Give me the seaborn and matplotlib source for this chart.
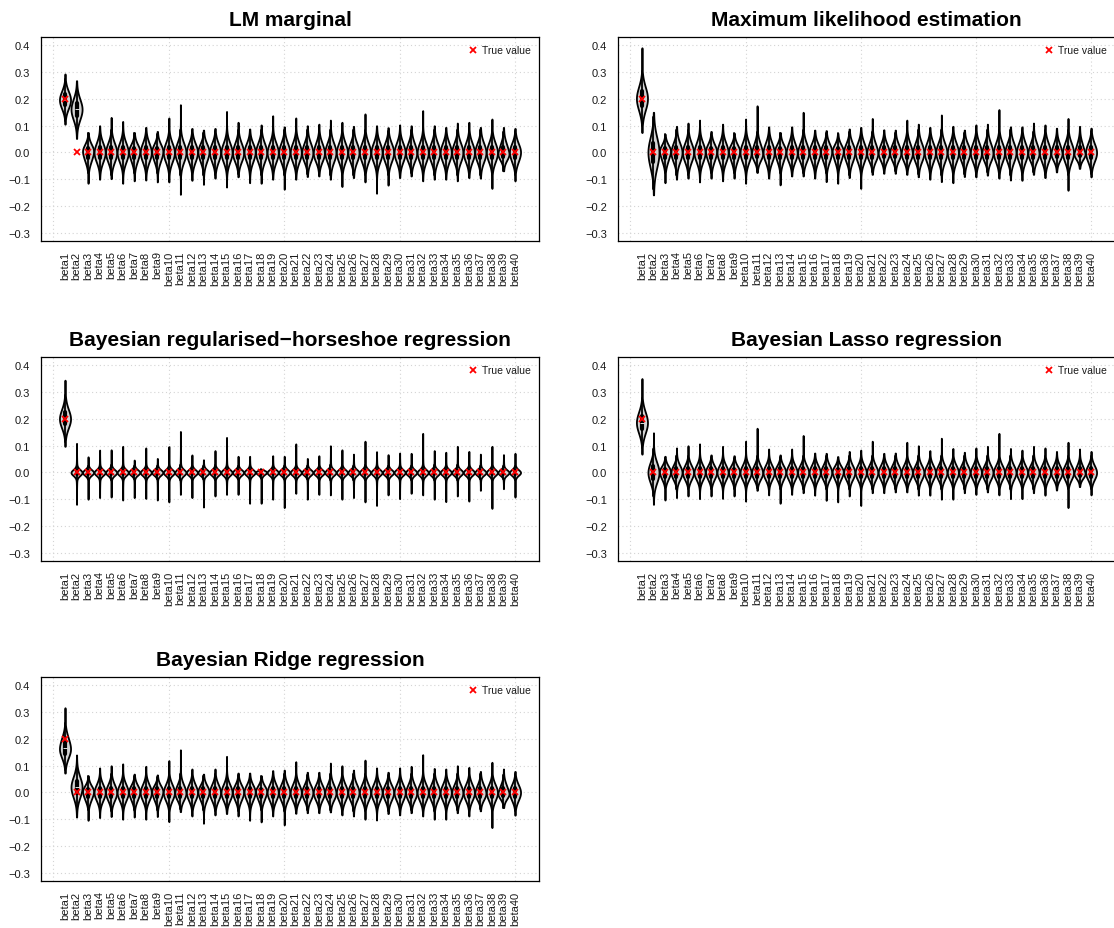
import math
import numpy as np
import pandas as pd
import matplotlib
matplotlib.use("Agg")
import matplotlib.pyplot as plt
import seaborn as sns
from matplotlib.lines import Line2D

# ---------------- data ----------------
PARAMS = [f"beta{i}" for i in range(1, 41)]
TRUE_VALUES = [0.2] + [0.0] * 39

TITLES = ["LM marginal", "Maximum likelihood estimation",
          "Bayesian regularised\u2212horseshoe regression",
          "Bayesian Lasso regression", "Bayesian Ridge regression"]

LM_MED = [0.195, 0.16] + [0.0] * 38
LM_SD = [0.030, 0.035] + [0.032] * 38
LM_HI = [0.291, 0.266, 0.074, 0.099, 0.130, 0.115, 0.074, 0.093, 0.078, 0.128,
         0.177, 0.089, 0.083, 0.089, 0.152, 0.112, 0.087, 0.102, 0.136, 0.095,
         0.128, 0.099, 0.105, 0.120, 0.112, 0.097, 0.143, 0.099, 0.092, 0.102,
         0.099, 0.155, 0.099, 0.093, 0.109, 0.112, 0.093, 0.124, 0.093, 0.089]
LM_LO = [0.105, 0.052, -0.114, -0.099, -0.097, -0.114, -0.105, -0.102, -0.109, -0.109,
         -0.155, -0.103, -0.118, -0.095, -0.128, -0.090, -0.112, -0.114, -0.099, -0.136,
         -0.099, -0.089, -0.087, -0.099, -0.126, -0.093, -0.109, -0.151, -0.121, -0.093,
         -0.087, -0.105, -0.099, -0.099, -0.105, -0.093, -0.095, -0.133, -0.068, -0.105]

MLE_MED = [0.2, 0.0] + [0.0] * 38
MLE_SD = [0.040, 0.052] + [0.032] * 38
MLE_HI = [0.388, 0.149, 0.068, 0.097, 0.109, 0.120, 0.078, 0.105, 0.072, 0.124,
          0.173, 0.095, 0.074, 0.095, 0.149, 0.083, 0.081, 0.071, 0.087, 0.093,
          0.126, 0.084, 0.083, 0.120, 0.105, 0.093, 0.139, 0.097, 0.083, 0.102,
          0.105, 0.159, 0.095, 0.095, 0.109, 0.102, 0.090, 0.126, 0.097, 0.090]
MLE_LO = [0.074, -0.157, -0.112, -0.099, -0.095, -0.109, -0.095, -0.105, -0.095, -0.114,
          -0.074, -0.095, -0.120, -0.087, -0.087, -0.095, -0.108, -0.114, -0.093, -0.133,
          -0.081, -0.077, -0.077, -0.081, -0.090, -0.099, -0.108, -0.112, -0.089, -0.090,
          -0.084, -0.095, -0.102, -0.103, -0.081, -0.093, -0.072, -0.140, -0.059, -0.090]

HS_MED = [0.2, 0.0] + [0.0] * 38
HS_SD = [0.030] + [0.008] * 39
HS_HI = [0.342, 0.108, 0.058, 0.083, 0.084, 0.097, 0.046, 0.091, 0.052, 0.096,
         0.152, 0.065, 0.047, 0.081, 0.130, 0.060, 0.060, 0.012, 0.062, 0.060,
         0.106, 0.052, 0.062, 0.099, 0.084, 0.068, 0.116, 0.077, 0.066, 0.072,
         0.071, 0.145, 0.081, 0.075, 0.097, 0.078, 0.068, 0.097, 0.066, 0.071]
HS_LO = [0.097, -0.118, -0.099, -0.093, -0.091, -0.102, -0.093, -0.096, -0.102, -0.109,
         -0.081, -0.093, -0.128, -0.087, -0.081, -0.081, -0.114, -0.114, -0.099, -0.130,
         -0.077, -0.099, -0.081, -0.083, -0.099, -0.093, -0.109, -0.122, -0.083, -0.097,
         -0.077, -0.083, -0.099, -0.108, -0.087, -0.106, -0.066, -0.133, -0.060, -0.091]

LASSO_MED = [0.185, 0.0] + [0.0] * 38
LASSO_SD = [0.036, 0.034] + [0.024] * 38
LASSO_HI = [0.348, 0.147, 0.060, 0.091, 0.099, 0.106, 0.065, 0.097, 0.062, 0.116,
            0.164, 0.087, 0.065, 0.087, 0.137, 0.072, 0.071, 0.059, 0.078, 0.083,
            0.116, 0.071, 0.072, 0.112, 0.099, 0.081, 0.127, 0.089, 0.075, 0.091,
            0.097, 0.145, 0.089, 0.083, 0.097, 0.091, 0.078, 0.112, 0.087, 0.078]
LASSO_LO = [0.068, -0.118, -0.102, -0.093, -0.087, -0.097, -0.087, -0.096, -0.087, -0.106,
            -0.066, -0.083, -0.114, -0.081, -0.075, -0.084, -0.103, -0.109, -0.087, -0.122,
            -0.075, -0.075, -0.072, -0.072, -0.084, -0.084, -0.099, -0.099, -0.075, -0.081,
            -0.072, -0.083, -0.097, -0.097, -0.075, -0.084, -0.065, -0.130, -0.052, -0.083]

RIDGE_MED = [0.165, 0.02] + [0.0] * 38
RIDGE_SD = [0.036, 0.035] + [0.027] * 38
RIDGE_HI = [0.314, 0.139, 0.062, 0.091, 0.099, 0.106, 0.068, 0.097, 0.065, 0.118,
            0.158, 0.087, 0.068, 0.087, 0.134, 0.072, 0.072, 0.062, 0.081, 0.083,
            0.114, 0.075, 0.075, 0.109, 0.099, 0.083, 0.120, 0.091, 0.075, 0.091,
            0.097, 0.140, 0.089, 0.087, 0.099, 0.093, 0.078, 0.112, 0.087, 0.078]
RIDGE_LO = [0.072, -0.091, -0.103, -0.093, -0.089, -0.099, -0.091, -0.099, -0.089, -0.108,
            -0.071, -0.087, -0.114, -0.083, -0.078, -0.087, -0.103, -0.109, -0.087, -0.120,
            -0.077, -0.075, -0.075, -0.072, -0.083, -0.087, -0.099, -0.102, -0.078, -0.083,
            -0.075, -0.087, -0.099, -0.099, -0.075, -0.087, -0.068, -0.130, -0.056, -0.084]

# share of draws in the wide (tail) component and its scale relative to the core
TAIL_FRAC = [0.0, 0.0, 0.2, 0.0, 0.0]
TAIL_MULT = [1.0, 1.0, 4.0, 1.0, 1.0]

PANELS = [
    (LM_MED, LM_SD, LM_LO, LM_HI),
    (MLE_MED, MLE_SD, MLE_LO, MLE_HI),
    (HS_MED, HS_SD, HS_LO, HS_HI),
    (LASSO_MED, LASSO_SD, LASSO_LO, LASSO_HI),
    (RIDGE_MED, RIDGE_SD, RIDGE_LO, RIDGE_HI),
]


# ---------------- helpers ----------------
def normal_quantiles(n):
    p = (np.arange(n) + 0.5) / n
    erf = np.vectorize(math.erf)
    lo = np.full(n, -8.0)
    hi = np.full(n, 8.0)
    for _ in range(60):
        mid = 0.5 * (lo + hi)
        cdf = 0.5 * (1 + erf(mid / math.sqrt(2)))
        lo = np.where(cdf < p, mid, lo)
        hi = np.where(cdf >= p, mid, hi)
    return 0.5 * (lo + hi)


QCACHE = {}


def draws(med, sd, lo, hi, tail_frac, tail_mult, n=300):
    n_tail = int(round(n * tail_frac))
    parts = []
    for m, s in ((n - n_tail, sd), (n_tail, sd * tail_mult)):
        if m <= 0:
            continue
        if m not in QCACHE:
            QCACHE[m] = normal_quantiles(m)
        z = QCACHE[m]
        zmax = z.max()
        up = min(s, (hi - med) / zmax)
        dn = min(s, (med - lo) / zmax)
        parts.append(np.where(z >= 0, med + up * z, med + dn * z))
    parts.append(np.array([lo, hi]))
    return np.concatenate(parts)


# ---------------- figure ----------------
sns.set_style("white")
plt.rcParams["font.family"] = ["Liberation Sans", "DejaVu Sans"]
plt.rcParams["axes.unicode_minus"] = True
plt.rcParams["text.color"] = "black"
plt.rcParams["axes.titlecolor"] = "black"

W, H = 1114, 929
fig = plt.figure(figsize=(W / 100, H / 100), dpi=100)

col_left = [41, 618]
col_width = [498, 497]
row_top = [38, 358, 678]
ax_h = 204
slots = [(0, 0), (0, 1), (1, 0), (1, 1), (2, 0)]

for k, (title, (med, sd, lo, hi)) in enumerate(zip(TITLES, PANELS)):
    r, c = slots[k]
    rect = [col_left[c] / W, 1 - (row_top[r] + ax_h) / H, col_width[c] / W, ax_h / H]
    ax = fig.add_axes(rect)

    rows = []
    for i, name in enumerate(PARAMS):
        vals = draws(med[i], sd[i], lo[i], hi[i], TAIL_FRAC[k], TAIL_MULT[k])
        rows.append(pd.DataFrame({"param": name, "value": vals}))
    df = pd.concat(rows, ignore_index=True)

    # grid underneath
    for yv in np.arange(-0.3, 0.41, 0.1):
        ax.axhline(yv, color="#d4d4d4", lw=0.8, ls=(0, (1, 2.5)), zorder=0)
    for xv in [-1, 9, 19, 29, 39]:
        ax.axvline(xv, color="#d4d4d4", lw=0.8, ls=(0, (1, 2.5)), zorder=0)

    sns.violinplot(data=df, x="param", y="value", order=PARAMS, ax=ax,
                   cut=0, density_norm="width", width=0.96, inner="box",
                   bw_adjust=1.25,
                   color="#d3d3d3", saturation=1, linecolor="black", linewidth=1.3,
                   inner_kws=dict(box_width=3.0, whis_width=1.3))

    ax.plot(np.arange(len(PARAMS)), TRUE_VALUES, ls="", marker="x", color="red",
            markersize=4.8, mew=1.3, zorder=6)

    ax.set_xlim(-2.08, 41.08)
    ax.set_ylim(-0.328, 0.428)
    ax.set_xlabel("")
    ax.set_ylabel("")
    ax.set_xticks(np.arange(len(PARAMS)))
    ax.set_xticklabels(PARAMS, rotation=90)
    yt = np.round(np.arange(-0.3, 0.41, 0.1), 1)
    ax.set_yticks(yt)
    ax.set_yticklabels([f"{v:.1f}".replace("-", "\u2212") for v in yt])
    ax.tick_params(axis="both", direction="out", length=4.3, width=0.8,
                   color="black", labelcolor="#1a1a1a")
    ax.tick_params(axis="x", pad=2.5, labelsize=8)
    ax.tick_params(axis="y", pad=3.5, labelsize=8)
    for sp in ax.spines.values():
        sp.set_visible(True)
        sp.set_color("black")
        sp.set_linewidth(0.9)
    ax.grid(False)

    ax.set_title(title, fontsize=15, fontweight="bold", pad=8.5, color="black")

    handle = Line2D([], [], ls="", marker="x", color="red", markersize=4.5,
                    mew=1.3, label="True value")
    ax.legend(handles=[handle], loc="upper right", frameon=False, fontsize=7.5,
              handletextpad=0.2, handlelength=1.2, borderaxespad=0.4,
              labelcolor="#1a1a1a")

fig.savefig("out.png", dpi=100)
